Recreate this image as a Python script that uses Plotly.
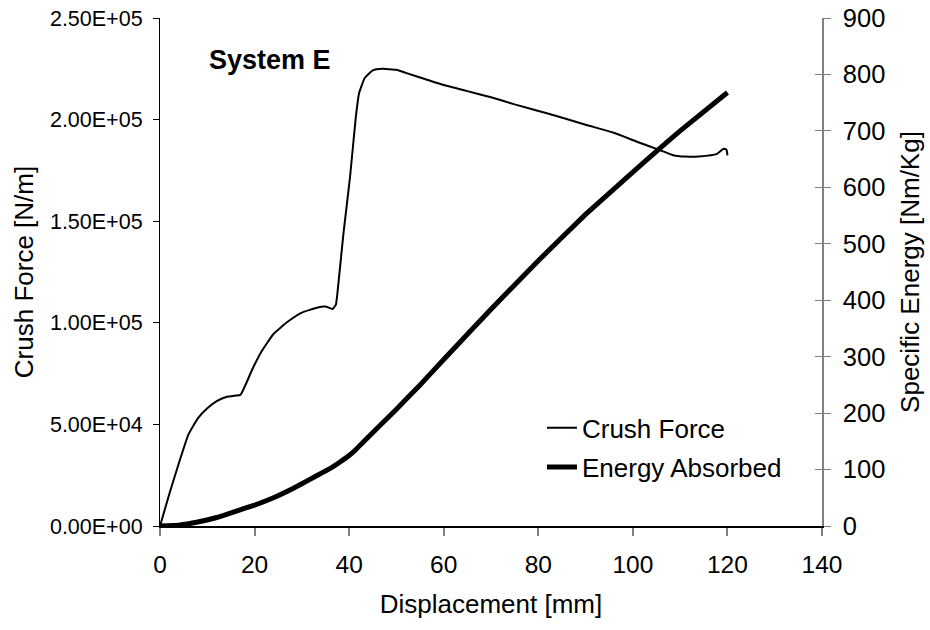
import plotly.graph_objects as go

# ---- data ----
force_x = [0, 2, 4, 6, 8, 10, 12, 14, 16, 17, 18, 19.5, 21.5, 24, 27, 30, 33, 35, 36.5,
           37.2, 37.8, 38.8, 40.2, 41.4, 42.1, 43.3, 45, 47, 50, 52, 56, 60, 65, 70, 75,
           82, 90, 96, 101, 105.7, 108.5, 111, 114, 117.7, 119.2, 119.8, 120]
force_y = [0, 16000, 31000, 45000, 53000, 58000, 61500, 63500, 64200, 64500, 69000, 77000,
           86000, 94500, 100500, 105000, 107300, 108000, 106800, 109000, 121000, 144000,
           172000, 201000, 213000, 220500, 224200, 225000, 224500, 223000, 220000, 217000,
           214000, 211000, 207500, 203000, 197500, 193500, 189000, 185000, 182500, 181800,
           181900, 183000, 185700, 185200, 182400]

energy_x = [0, 4, 8, 12, 16, 20, 24, 28, 32, 36, 38, 40, 41.5, 43, 50, 55, 60, 70, 80, 90,
            100, 105.4, 110, 120]
energy_y = [0, 1.5, 7, 15, 26, 37, 50, 66, 84, 102, 113, 125, 136, 149, 207, 250, 295, 384,
            470, 552, 627, 667, 700, 768]

left_ticks = [0, 50000, 100000, 150000, 200000, 250000]
left_labels = ["0.00E+00", "5.00E+04", "1.00E+05", "1.50E+05", "2.00E+05", "2.50E+05"]
right_ticks = [0, 100, 200, 300, 400, 500, 600, 700, 800, 900]
x_ticks = [0, 20, 40, 60, 80, 100, 120, 140]

FONT = "Liberation Sans, Arial, sans-serif"
FS_LEFT = 21.5
FS_XTICK = 24.5
FS_RTICK = 25.5
FS_TITLE = 26

fig = go.Figure()
fig.add_trace(go.Scatter(x=force_x, y=force_y, mode="lines", name="Crush Force",
                         line=dict(color="black", width=2, shape="spline", smoothing=0.4),
                         legend="legend"))
fig.add_trace(go.Scatter(x=energy_x, y=energy_y, mode="lines", name="Energy Absorbed",
                         line=dict(color="black", width=5, shape="spline", smoothing=0.3),
                         yaxis="y2", legend="legend2"))
# helper trace so the inward tick marks of the right axis are drawn
fig.add_trace(go.Scatter(x=[None], y=[None], yaxis="y3", showlegend=False, hoverinfo="skip"))

fig.update_layout(
    width=930, height=630,
    margin=dict(l=160, r=108, t=18, b=104),
    paper_bgcolor="white", plot_bgcolor="white",
    font=dict(family=FONT, size=FS_XTICK, color="black"),
    xaxis=dict(range=[0, 140], tickvals=x_ticks, showgrid=False, zeroline=False,
               showline=True, linecolor="black", linewidth=1.5,
               ticks="outside", ticklen=8, tickcolor="#808080", tickwidth=1.5,
               ticklabelstandoff=8, tickfont=dict(size=FS_XTICK),
               title=dict(text="Displacement [mm]", standoff=18, font=dict(size=FS_TITLE)),
               automargin=False),
    yaxis=dict(range=[0, 250000], tickvals=left_ticks, ticktext=left_labels,
               showgrid=False, zeroline=False,
               showline=True, linecolor="black", linewidth=1.2,
               ticks="outside", ticklen=6, tickcolor="black", tickwidth=1,
               ticklabelstandoff=6, tickfont=dict(size=FS_LEFT),
               title=dict(text="Crush Force [N/m]", standoff=8, font=dict(size=FS_TITLE)),
               automargin=False),
    yaxis2=dict(range=[0, 900], tickvals=right_ticks, overlaying="y", side="right",
                anchor="x", showgrid=False, zeroline=False,
                showline=True, linecolor="#808080", linewidth=1.5,
                ticks="outside", ticklen=7, tickcolor="#808080", tickwidth=1,
                ticklabelstandoff=7, tickfont=dict(size=FS_RTICK),
                title=dict(text="Specific Energy [Nm/Kg]", standoff=16, font=dict(size=FS_TITLE)),
                automargin=False),
    yaxis3=dict(range=[0, 900], tickvals=right_ticks, overlaying="y", side="right",
                anchor="x", showgrid=False, zeroline=False, showline=False,
                ticks="inside", ticklen=7, tickcolor="#808080", tickwidth=1,
                showticklabels=False, automargin=False),
    legend=dict(x=0.577, y=0.193, xanchor="left", yanchor="middle",
                bgcolor="rgba(0,0,0,0)", font=dict(size=FS_TITLE)),
    legend2=dict(x=0.577, y=0.116, xanchor="left", yanchor="middle",
                 bgcolor="rgba(0,0,0,0)", font=dict(size=FS_TITLE)),
    annotations=[dict(text="<b>System E</b>", x=0.0715, y=0.917, xref="paper", yref="paper",
                      xanchor="left", yanchor="middle", showarrow=False,
                      font=dict(size=27, family=FONT))],
)

fig.write_html("out.html")
